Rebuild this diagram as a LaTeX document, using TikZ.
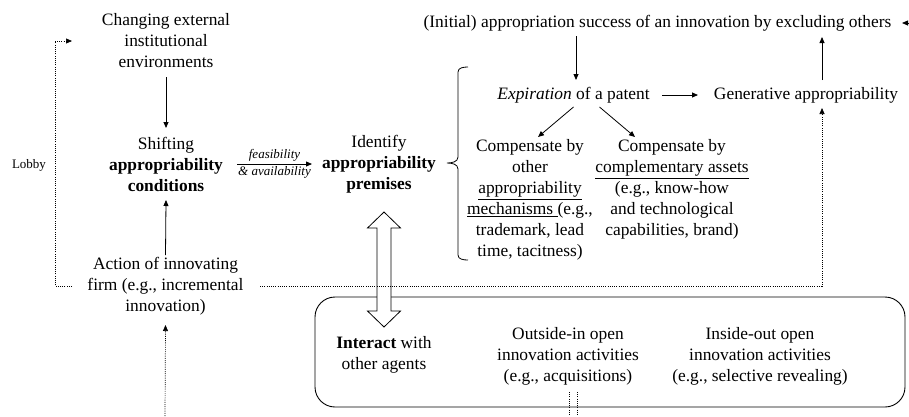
\documentclass[tikz,border=0pt]{standalone}
\usepackage{fontspec}
\setmainfont{Liberation Serif}
\usetikzlibrary{arrows.meta,calc}
\begin{document}
\begin{tikzpicture}[x=1pt,y=-1pt,
  txt/.style={align=center,inner sep=4pt,font=\fontsize{17.4}{21}\selectfont},
  small/.style={inner sep=1pt,font=\fontsize{13}{15}\selectfont},
  arr/.style={line width=0.8pt,-{Triangle[length=6pt,width=5pt]}},
  dotln/.style={line width=0.7pt,dash pattern=on 1pt off 1.2pt},
  dotarr/.style={dotln,-{Triangle[length=6pt,width=5pt]}},
  bigbox/.style={draw,line width=0.9pt,rounded corners=20pt}]
\useasboundingbox (0,0) rectangle (909,416);

% nodes
\node[txt] (chg) at (166,41) {Changing external\\institutional\\environments};
\node[txt] (shf) at (166,164) {Shifting\\\textbf{appropriability}\\\textbf{conditions}};
\node[txt] (act) at (165.5,286) {Action of innovating\\firm (e.g., incremental\\innovation)};
\node[small] (lob) at (29,165) {Lobby};
\node[txt] (idn) at (379,164) {Identify\\\textbf{appropriability}\\\textbf{premises}};
\node[txt] (ini) at (657.5,23) {(Initial) appropriation success of an innovation by excluding others};
\node[txt] (exp) at (573.5,95) {\textit{Expiration} of a patent};
\node[txt] (gen) at (806,95) {Generative appropriability};
\node[txt] (cl) at (530,200) {Compensate by\\other\\\underline{appropriability}\\\underline{mechanisms\ }(e.g.,\\trademark, lead\\time, tacitness)};
\node[txt] (cr) at (672,189.5) {Compensate by\\\underline{complementary assets}\\(e.g., know-how\\and technological\\capabilities, brand)};
\node[bigbox, minimum width=590pt, minimum height=110pt] (box) at (610,352) {};
\node[txt] (inter) at (384,355) {\textbf{Interact} with\\other agents};
\node[txt] (oi) at (568,356) {Outside-in open\\innovation activities\\(e.g., acquisitions)};
\node[txt] (io) at (760,356) {Inside-out open\\innovation activities\\(e.g., selective revealing)};

\coordinate (rin) at (909,23);
\coordinate (bot) at (165,416);
\coordinate (b1) at (569,416);
\coordinate (b2) at (577,416);

% solid arrows
\draw[arr] ($(chg.center)+(0,36)$) -- ($(shf.center)+(0,-36)$);
\draw[arr] ($(act.center)+(0,-31)$) -- ($(shf.center)+(0,36)$);
\draw[arr] ($(shf.center)+(71,0)$) -- ($(idn.center)+(-67,0)$)
  node[midway,above=1pt,small]{\textit{feasibility}}
  node[midway,below=1pt,small]{\textit{\&~availability}};
\draw[arr] ($(ini.center)+(-81.5,13)$) -- ($(exp.center)+(2.5,-15)$);
\draw[arr] ($(exp.center)+(88.5,0)$) -- ($(gen.center)+(-108,0)$);
\draw[arr] ($(gen.center)+(16,-15)$) -- ($(ini.center)+(164.5,14)$);
\draw[arr] ($(exp.center)+(0,12)$) -- ($(cl.center)+(8,-63)$);
\draw[arr] ($(exp.center)+(26,12)$) -- ($(cr.center)+(-37,-52.5)$);
\draw[arr] (rin) -- ($(ini.center)+(244.5,0)$);

% brace
\draw[line width=0.8pt] (468,67) to[out=180,in=90] (458,72) -- (458,157)
  to[out=-90,in=0] (447,163) to[out=0,in=90] (458,169) -- (458,255)
  to[out=-90,in=180] (468,260);

% double block arrow
\draw[line width=0.8pt,fill=white] (384,212) -- (400.5,228) -- (391,228) -- (391,311)
  -- (400.5,311) -- (384,327) -- (367.5,311) -- (377,311) -- (377,228) -- (367.5,228) -- cycle;

% dotted connectors
\draw[dotarr] ($(act.center)+(-93.5,0)$) -| (55,120) |- ($(chg.center)+(-94,0)$);
\draw[dotarr] ($(act.center)+(94.5,0)$) -| ($(gen.center)+(16,13)$);
\draw[dotarr] (bot) -- ($(act.center)+(0,39)$);
\draw[dotln] ($(oi.center)+(1,36)$) -- (b1);
\draw[dotln] ($(oi.center)+(9,36)$) -- (b2);
\end{tikzpicture}
\end{document}
